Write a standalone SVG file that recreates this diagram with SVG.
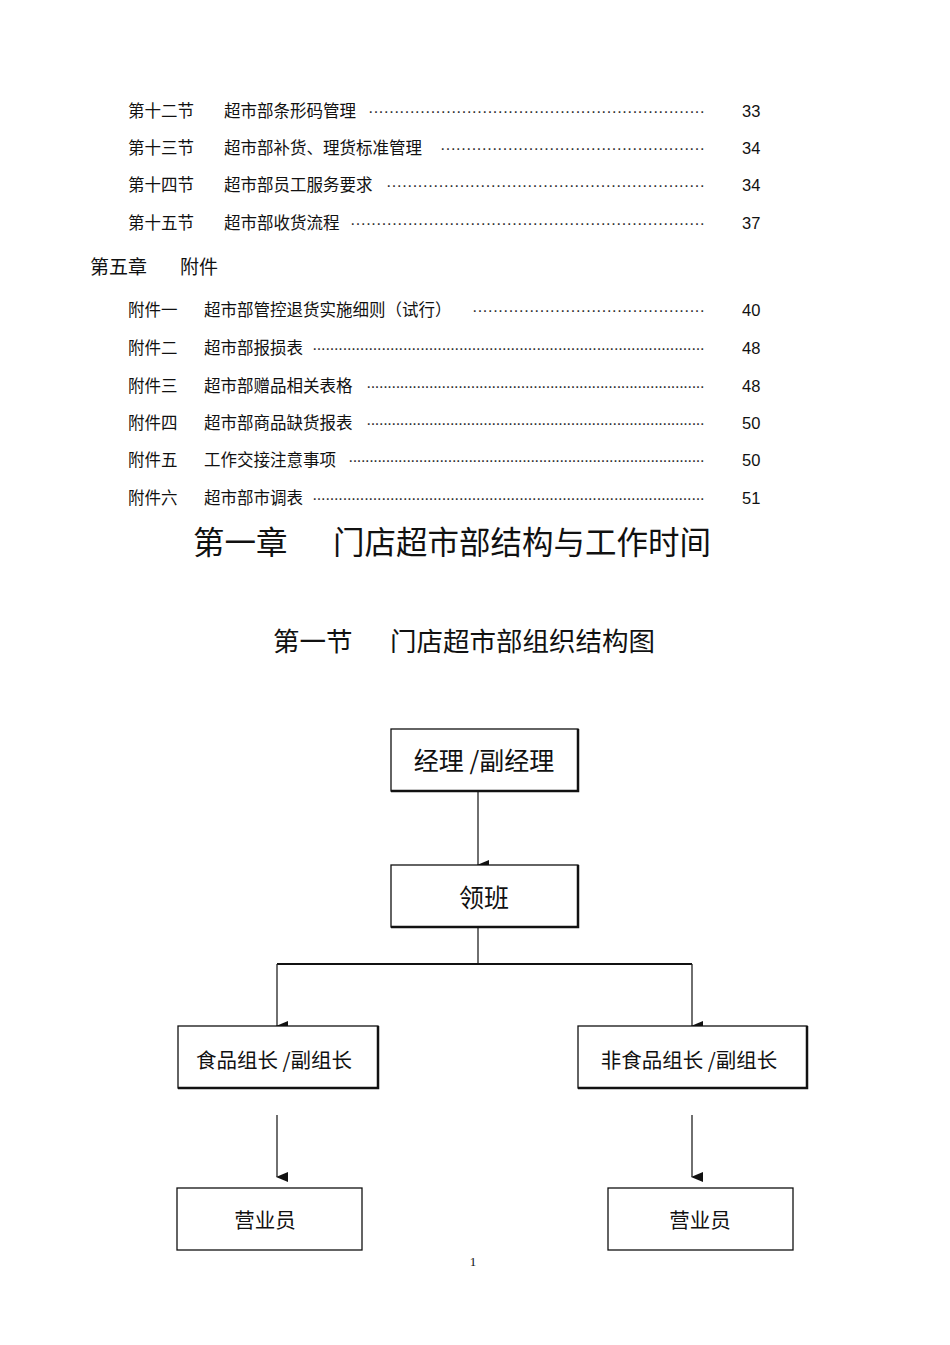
<svg xmlns="http://www.w3.org/2000/svg" width="950" height="1345" viewBox="0 0 950 1345">
<style>
text{font-family:"Liberation Sans","Noto Sans CJK SC",sans-serif;fill:#111}
.t{font-size:16.5px}
.d{font-size:16.5px;fill:#333}
.box{fill:#fff;stroke:#111;stroke-width:1.3}
.sh{stroke:#111;stroke-width:2.5;fill:none}
.ln{stroke:#222;stroke-width:1.3;fill:none}
.bt{font-family:"Noto Sans CJK SC",sans-serif;text-anchor:middle}
</style>
<defs><marker id="ar" markerWidth="10" markerHeight="12" refX="5" refY="11" orient="auto" markerUnits="userSpaceOnUse" viewBox="0 0 10 12"><path d="M0,0 L10,0 L5,12 Z" fill="#111" transform="rotate(-90 5 6) rotate(90 5 6)"/></marker></defs>
<g id="toc">
<text class="t" x="128" y="117">第十二节</text><text class="t" x="224" y="117">超市部条形码管理</text><text class="d" x="368" y="117" textLength="337" lengthAdjust="spacing">·································································</text><text class="t" x="742" y="117">33</text>
<text class="t" x="128" y="154">第十三节</text><text class="t" x="224" y="154">超市部补货、理货标准管理</text><text class="d" x="440" y="154" textLength="265" lengthAdjust="spacing">···················································</text><text class="t" x="742" y="154">34</text>
<text class="t" x="128" y="191">第十四节</text><text class="t" x="224" y="191">超市部员工服务要求</text><text class="d" x="386" y="191" textLength="319" lengthAdjust="spacing">·····························································</text><text class="t" x="742" y="191">34</text>
<text class="t" x="128" y="229">第十五节</text><text class="t" x="224" y="229">超市部收货流程</text><text class="d" x="350" y="229" textLength="355" lengthAdjust="spacing">····································································</text><text class="t" x="742" y="229">37</text>
<text x="90" y="274" style="font-size:19px">第五章</text><text x="180" y="274" style="font-size:19px">附件</text>
<text class="t" x="128" y="316">附件一</text><text class="t" x="204" y="316">超市部管控退货实施细则（试行）</text><text class="d" x="472" y="316" textLength="233" lengthAdjust="spacing">·············································</text><text class="t" x="742" y="316">40</text>
<text class="t" x="128" y="354">附件二</text><text class="t" x="204" y="354">超市部报损表</text><text class="d" x="312" y="354" textLength="393" lengthAdjust="spacing">···························································································</text><text class="t" x="742" y="354">48</text>
<text class="t" x="128" y="392">附件三</text><text class="t" x="204" y="392">超市部赠品相关表格</text><text class="d" x="366" y="392" textLength="339" lengthAdjust="spacing">·················································································</text><text class="t" x="742" y="392">48</text>
<text class="t" x="128" y="429">附件四</text><text class="t" x="204" y="429">超市部商品缺货报表</text><text class="d" x="366" y="429" textLength="339" lengthAdjust="spacing">·················································································</text><text class="t" x="742" y="429">50</text>
<text class="t" x="128" y="466">附件五</text><text class="t" x="204" y="466">工作交接注意事项</text><text class="d" x="348" y="466" textLength="357" lengthAdjust="spacing">······················································································</text><text class="t" x="742" y="466">50</text>
<text class="t" x="128" y="504">附件六</text><text class="t" x="204" y="504">超市部市调表</text><text class="d" x="312" y="504" textLength="393" lengthAdjust="spacing">···························································································</text><text class="t" x="742" y="504">51</text>
</g>
<g id="titles">
<text x="193" y="554" style="font-size:31.5px;font-family:'Noto Sans CJK SC',sans-serif">第一章</text>
<text x="333" y="554" style="font-size:31.5px;font-family:'Noto Sans CJK SC',sans-serif">门店超市部结构与工作时间</text>
<text x="273" y="651" style="font-size:26.5px;font-family:'Noto Sans CJK SC',sans-serif">第一节</text>
<text x="390" y="651" style="font-size:26.5px;font-family:'Noto Sans CJK SC',sans-serif">门店超市部组织结构图</text>
</g>
<g id="connectors">
<line class="ln" x1="478" y1="791" x2="478" y2="865" marker-end="url(#ar)"/>
<line class="ln" x1="478" y1="927" x2="478" y2="964"/>
<line x1="277" y1="964" x2="692" y2="964" stroke="#111" stroke-width="2.2"/>
<line class="ln" x1="277" y1="964" x2="277" y2="1026" marker-end="url(#ar)"/>
<line class="ln" x1="692" y1="964" x2="692" y2="1026" marker-end="url(#ar)"/>
<line class="ln" x1="277" y1="1115" x2="277" y2="1177" marker-end="url(#ar)"/>
<line class="ln" x1="692" y1="1115" x2="692" y2="1177" marker-end="url(#ar)"/>
</g>
<g id="n1"><rect class="box" x="391" y="729" width="187" height="62"/><path class="sh" d="M391,791 H578 V729"/><text class="bt" x="484" y="770" style="font-size:25px">经理 /副经理</text></g>
<g id="n2"><rect class="box" x="391" y="865" width="187" height="62"/><path class="sh" d="M391,927 H578 V865"/><text class="bt" x="484" y="907" style="font-size:25px">领班</text></g>
<g id="n3"><rect class="box" x="178" y="1026" width="200" height="62"/><path class="sh" d="M178,1088 H378 V1026"/><text class="bt" x="274" y="1068" style="font-size:20.5px">食品组长 /副组长</text></g>
<g id="n4"><rect class="box" x="578" y="1026" width="229" height="62"/><path class="sh" d="M578,1088 H807 V1026"/><text class="bt" x="689" y="1068" style="font-size:20.5px">非食品组长 /副组长</text></g>
<g id="n5"><rect class="box" x="177" y="1188" width="185" height="62"/><text class="bt" x="265" y="1228" style="font-size:20.5px">营业员</text></g>
<g id="n6"><rect class="box" x="608" y="1188" width="185" height="62"/><text class="bt" x="700" y="1228" style="font-size:20.5px">营业员</text></g>
<text x="473" y="1266" style="font-family:'Liberation Serif',serif;font-size:13px;text-anchor:middle">1</text>
</svg>
